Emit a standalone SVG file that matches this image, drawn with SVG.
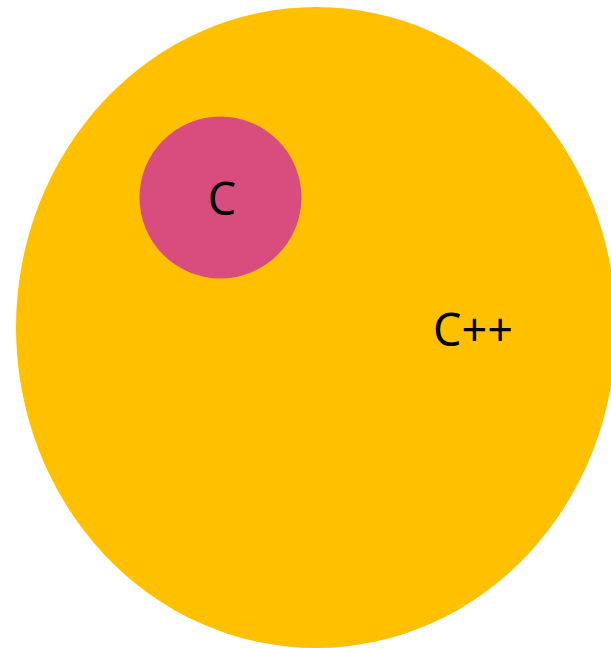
<svg xmlns="http://www.w3.org/2000/svg" width="611" height="648" viewBox="0 0 611 648">
<style>
.lbl{font-family:"Noto Sans","DejaVu Sans",sans-serif;font-size:45px;fill:#000;text-anchor:middle}
</style>
<rect width="611" height="648" fill="#fff"/>
<g id="cpp">
<ellipse cx="316" cy="327.5" rx="300" ry="320.5" fill="#ffc000"/>
<text class="lbl" x="473" y="346">C++</text>
</g>
<g id="c">
<circle cx="220.5" cy="197.5" r="81" fill="#d94c7e"/>
<text class="lbl" x="222" y="215">C</text>
</g>
<g id="connectors"/>
</svg>
